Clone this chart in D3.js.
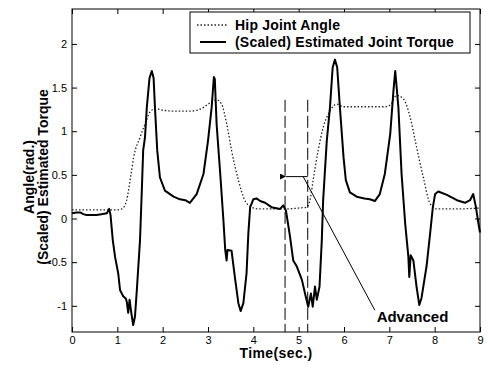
<!DOCTYPE html>
<html>
<head>
<meta charset="utf-8">
<script src="https://cdn.jsdelivr.net/npm/d3@7"></script>
<style>
    body { margin: 0; background: #fff; }
    text { font-family: "Liberation Sans", Arial, sans-serif; }
</style>
</head>
<body>
<svg id="chart" width="489" height="365"></svg>
<script>
var xTicks = [0, 1, 2, 3, 4, 5, 6, 7, 8, 9]
var yTicks = [-1, -0.5, 0, 0.5, 1, 1.5, 2]

var seriesNames = ["Hip Joint Angle", "(Scaled) Estimated Joint Torque"]

// [time (sec), angle (rad)]
var hipAngle = [
    [0, 0.10], [0.5, 0.10], [1.0, 0.10], [1.1, 0.11], [1.2, 0.20], [1.3, 0.50], [1.36, 0.70],
    [1.5, 0.93], [1.61, 1.08], [1.72, 1.22], [1.85, 1.26], [2.0, 1.24], [2.3, 1.23], [2.6, 1.23],
    [2.75, 1.24], [2.86, 1.26], [3.0, 1.31], [3.19, 1.36], [3.3, 1.31], [3.41, 1.09], [3.52, 0.78],
    [3.67, 0.44], [3.81, 0.21], [3.96, 0.13], [4.1, 0.11], [4.5, 0.11], [4.74, 0.11], [5.0, 0.12],
    [5.18, 0.13], [5.25, 0.21], [5.32, 0.44], [5.43, 0.78], [5.54, 1.04], [5.69, 1.23], [5.84, 1.31],
    [5.99, 1.28], [6.3, 1.28], [6.6, 1.28], [6.9, 1.28], [7.02, 1.30], [7.16, 1.41], [7.31, 1.37],
    [7.46, 1.16], [7.6, 0.82], [7.75, 0.47], [7.9, 0.17], [8.05, 0.11], [8.5, 0.11], [9.0, 0.12]
]

// [time (sec), scaled torque]
var jointTorque = [
    [0, 0.06], [0.1, 0.07], [0.18, 0.07], [0.25, 0.05], [0.32, 0.04], [0.45, 0.04], [0.54, 0.04],
    [0.65, 0.05], [0.77, 0.06], [0.82, 0.11], [0.85, 0.04], [0.9, -0.25], [0.95, -0.44], [1.02, -0.63],
    [1.06, -0.82], [1.13, -0.89], [1.19, -0.92], [1.21, -0.96], [1.24, -1.08], [1.27, -0.93],
    [1.3, -1.05], [1.32, -1.12], [1.35, -1.22], [1.39, -1.12], [1.43, -0.82], [1.5, -0.25],
    [1.54, 0.32], [1.57, 0.78], [1.61, 0.93], [1.65, 1.27], [1.71, 1.61], [1.76, 1.69], [1.8, 1.61],
    [1.83, 1.27], [1.88, 0.78], [1.94, 0.47], [2.05, 0.32], [2.24, 0.25], [2.38, 0.22], [2.5, 0.21],
    [2.6, 0.18], [2.75, 0.28], [2.9, 0.51], [3.0, 0.89], [3.08, 1.27], [3.13, 1.62], [3.15, 1.60],
    [3.19, 1.08], [3.27, 0.51], [3.34, -0.02], [3.38, -0.36], [3.41, -0.48], [3.43, -0.36],
    [3.52, -0.37], [3.6, -0.70], [3.67, -0.97], [3.72, -1.06], [3.78, -0.97], [3.85, -0.63],
    [3.89, -0.17], [3.93, 0.13], [4.0, 0.22], [4.07, 0.23], [4.15, 0.20], [4.26, 0.18], [4.4, 0.13],
    [4.59, 0.11], [4.66, 0.15], [4.72, 0.09], [4.81, -0.21], [4.88, -0.48], [4.96, -0.55],
    [5.07, -0.70], [5.14, -0.86], [5.21, -1.01], [5.27, -0.86], [5.31, -1.01], [5.36, -0.78],
    [5.4, -0.93], [5.46, -0.78], [5.51, -0.25], [5.54, 0.21], [5.62, 0.89], [5.69, 1.27], [5.75, 1.73],
    [5.8, 1.82], [5.85, 1.73], [5.91, 1.27], [5.99, 0.70], [6.04, 0.44], [6.13, 0.30], [6.28, 0.25],
    [6.45, 0.23], [6.57, 0.22], [6.68, 0.20], [6.79, 0.28], [6.9, 0.51], [7.02, 0.97], [7.09, 1.46],
    [7.13, 1.69], [7.2, 1.27], [7.27, 0.51], [7.35, -0.06], [7.42, -0.44], [7.44, -0.67],
    [7.47, -0.42], [7.53, -0.48], [7.6, -0.78], [7.66, -0.99], [7.71, -0.91], [7.82, -0.55],
    [7.9, -0.17], [7.96, 0.13], [8.01, 0.28], [8.08, 0.31], [8.27, 0.27], [8.49, 0.21], [8.67, 0.18],
    [8.78, 0.21], [8.85, 0.28], [8.91, 0.13], [8.96, -0.04], [9.0, -0.16]
]

// annotation, in data units
var markerTimes = [4.7, 5.2]
var markerTop = 1.36
var arrowLevel = 0.48
var pointerLine = [[5.1, 0.48], [6.68, -1.05]]
var noteText = "Advanced"
var notePos = [6.72, -1.18]

var svg = d3.select("svg#chart"),
    margin = {left: 72, top: 9, right: 9, bottom: 33},
    width = +svg.attr("width") - margin.left - margin.right,
    height = +svg.attr("height") - margin.top - margin.bottom

var x = d3.scaleLinear().domain([0, 9]).range([0, width])
var y = d3.scaleLinear().domain([-1.3, 2.4]).range([height, 0])

svg.append("rect").attr("width", 489).attr("height", 365).attr("fill", "#fff")

svg.append("defs").append("marker")
    .attr("id", "arrowhead")
    .attr("viewBox", "0 -5 10 10")
    .attr("refX", 0).attr("refY", 0)
    .attr("orient", "auto")
    .attr("markerWidth", 8).attr("markerHeight", 6)
    .attr("markerUnits", "userSpaceOnUse")
    .append("path").attr("d", "M 10,-5 L 0,0 L 10,5 Z").attr("fill", "#000")

var g = svg.append("g").attr("transform", "translate(" + margin.left + "," + margin.top + ")")

// axes, ticks inward like matlab
var bottom = g.append("g").attr("transform", "translate(0," + height + ")")
    .call(d3.axisBottom(x).tickValues(xTicks).tickSizeInner(-5).tickSizeOuter(0).tickPadding(4).tickFormat(String))
var top = g.append("g")
    .call(d3.axisTop(x).tickValues(xTicks).tickSizeInner(-5).tickSizeOuter(0).tickFormat(""))
var left = g.append("g")
    .call(d3.axisLeft(y).tickValues(yTicks).tickSizeInner(-5).tickSizeOuter(0).tickPadding(5).tickFormat(String))
var right = g.append("g").attr("transform", "translate(" + width + ",0)")
    .call(d3.axisRight(y).tickValues(yTicks).tickSizeInner(-5).tickSizeOuter(0).tickFormat(""))

g.selectAll(".domain").remove()
g.selectAll(".tick line").attr("stroke", "#000").attr("stroke-width", 1)
g.selectAll(".tick text").attr("fill", "#000").style("font-size", "11px")

g.append("rect").attr("width", width).attr("height", height)
    .attr("fill", "none").attr("stroke", "#000").attr("stroke-width", 1)

var line = d3.line().x(function (d) { return x(d[0]) }).y(function (d) { return y(d[1]) })
var smooth = d3.line().curve(d3.curveMonotoneX).x(function (d) { return x(d[0]) }).y(function (d) { return y(d[1]) })

g.append("path").datum(hipAngle)
    .attr("d", smooth)
    .attr("fill", "none").attr("stroke", "#222").attr("stroke-width", 1.3)
    .attr("stroke-dasharray", "1.5,2")

g.append("path").datum(jointTorque)
    .attr("d", line)
    .attr("fill", "none").attr("stroke", "#000").attr("stroke-width", 2)
    .attr("stroke-linejoin", "round")

// dashed markers + arrow
g.selectAll(".marker").data(markerTimes).enter().append("line")
    .attr("class", "marker")
    .attr("x1", function (d) { return x(d) }).attr("x2", function (d) { return x(d) })
    .attr("y1", y(markerTop)).attr("y2", height)
    .attr("stroke", "#000").attr("stroke-width", 1).attr("stroke-dasharray", "12,4")

g.append("line")
    .attr("x1", x(markerTimes[1])).attr("y1", y(arrowLevel))
    .attr("x2", x(markerTimes[0]) + 1).attr("y2", y(arrowLevel))
    .attr("stroke", "#000").attr("stroke-width", 1)
    .attr("marker-end", "url(#arrowhead)")

g.append("path").datum(pointerLine)
    .attr("d", line).attr("fill", "none").attr("stroke", "#000").attr("stroke-width", 1)

g.append("text").attr("x", x(notePos[0])).attr("y", y(notePos[1]))
    .text(noteText).style("font-size", "15px").style("font-weight", "bold")

// legend
var legend = g.append("g").attr("transform", "translate(" + (190 - margin.left) + "," + (12 - margin.top) + ")")
legend.append("rect").attr("width", 280).attr("height", 41)
    .attr("fill", "#fff").attr("stroke", "#000").attr("stroke-width", 1)
legend.append("line").attr("x1", 7).attr("x2", 38).attr("y1", 13).attr("y2", 13)
    .attr("stroke", "#222").attr("stroke-width", 1.3).attr("stroke-dasharray", "1.5,2")
legend.append("line").attr("x1", 10).attr("x2", 36).attr("y1", 30).attr("y2", 30)
    .attr("stroke", "#000").attr("stroke-width", 2)
legend.selectAll(".label").data(seriesNames).enter().append("text")
    .attr("x", 45).attr("y", function (d, i) { return 18 + i * 17 })
    .text(function (d) { return d })
    .style("font-size", "14px").style("font-weight", "bold").style("letter-spacing", "0.2px")

// axis labels
svg.append("text").attr("x", margin.left + x(4.5)).attr("y", 358)
    .attr("text-anchor", "middle").text("Time(sec.)")
    .style("font-size", "14px").style("font-weight", "bold").style("letter-spacing", "0.4px")

var ylab = svg.append("text").attr("transform", "translate(34,177) rotate(-90)")
    .attr("text-anchor", "middle").style("font-size", "14px").style("font-weight", "bold")
ylab.append("tspan").attr("x", 0).attr("dy", 0).text("Angle(rad.)")
ylab.append("tspan").attr("x", 0).attr("dy", 14).text("(Scaled) Estimated Torque")
</script>
</body>
</html>
